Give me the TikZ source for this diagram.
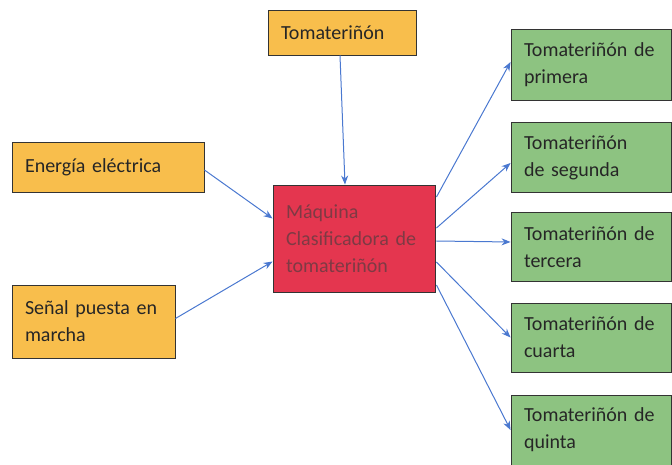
\documentclass[tikz,border=0pt]{standalone}
\usepackage{fontspec}
\setmainfont{Carlito}
\usetikzlibrary{arrows.meta,calc}
\definecolor{boxorange}{HTML}{F8BE4C}
\definecolor{boxred}{HTML}{E4364F}
\definecolor{boxgreen}{HTML}{8DC381}
\definecolor{arrowblue}{HTML}{4A78D0}
\definecolor{maintext}{HTML}{7E3A44}
\begin{document}
\begin{tikzpicture}[x=1pt,y=-1pt,
  every node/.style={font=\fontsize{20}{27}\selectfont},
  box/.style={draw=black!80, line width=0.9pt, rectangle, align=left,
    inner xsep=13pt, inner ysep=4pt, text=black!85},
  inbox/.style={box, fill=boxorange},
  outbox/.style={box, fill=boxgreen, minimum width=160pt, text width=134pt},
  flow/.style={draw=arrowblue, line width=1pt, -{Stealth[length=9pt,width=7pt]}}]
\useasboundingbox (0,0) rectangle (672,465);

% inputs
\node[inbox, minimum width=148pt, minimum height=45pt, text width=122pt] (tomate) at (342,32.5) {Tomateriñón};
\node[inbox, minimum width=192pt, minimum height=50pt, text width=166pt] (energia) at (108,167) {Energía eléctrica};
\node[inbox, minimum width=163pt, minimum height=73pt, text width=137pt] (senal) at (93.5,321.5) {Señal puesta en\\marcha};

% machine
\node[box, fill=boxred, text=maintext, minimum width=162pt, minimum height=107pt, text width=136pt] (maquina) at (354,238.5) {Máquina\\Clasificadora de\\tomateriñón};

% outputs
\node[outbox, minimum height=71pt] (c1) at (591,64.5) {Tomateriñón de\\primera};
\node[outbox, minimum height=70pt] (c2) at (591,157.5) {Tomateriñón\\de segunda};
\node[outbox, minimum height=69pt] (c3) at (591,247) {Tomateriñón de\\tercera};
\node[outbox, minimum height=69pt] (c4) at (591,337.5) {Tomateriñón de\\cuarta};
\node[outbox, minimum height=70pt] (c5) at (591,430) {Tomateriñón de\\quinta};

% input connectors
\draw[flow] ($(tomate.south)+(-2,0)$) -- ($(maquina.north)+(-9,0)$);
\draw[flow] ($(energia.east)+(0,3)$) -- ($(maquina.west)+(0,-20)$);
\draw[flow] ($(senal.east)+(0,-3)$) -- ($(maquina.west)+(0,23)$);

% output connectors
\draw[flow] ($(maquina.east)+(1,-41.5)$) -- ($(c1.west)+(0,-2.5)$);
\draw[flow] ($(maquina.east)+(1,-10.5)$) -- ($(c2.west)+(0,5.5)$);
\draw[flow] ($(maquina.east)+(1,2.5)$) -- ($(c3.west)+(0,-5)$);
\draw[flow] ($(maquina.east)+(1,23.5)$) -- (c4.west);
\draw[flow] ($(maquina.east)+(1,46.5)$) -- (c5.west);
\end{tikzpicture}
\end{document}
